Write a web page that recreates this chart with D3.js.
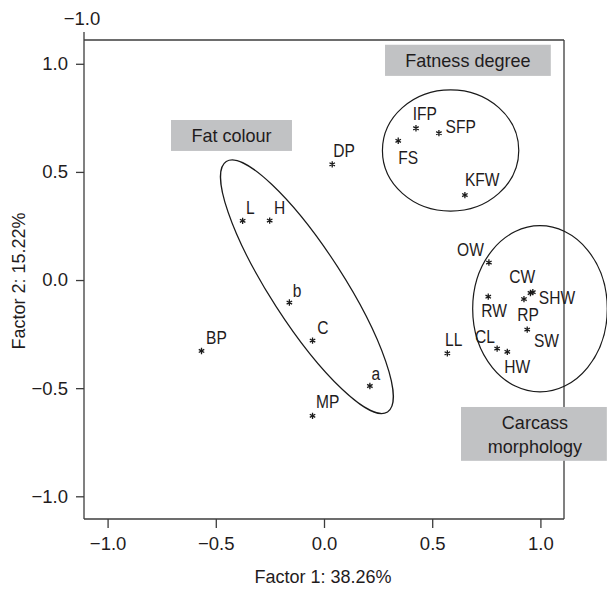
<!DOCTYPE html>
<html>
<head>
<meta charset="utf-8">
<script src="https://cdn.jsdelivr.net/npm/d3@7"></script>
<style>
  body { margin: 0; background: #fff; }
  text { font-family: "Liberation Sans", Arial, sans-serif; fill: #1f1c1d; }
</style>
</head>
<body>
<div id="chart"></div>
<script>
// variables (factor 1, factor 2)
const names = ["L", "H", "b", "C", "a", "MP", "BP", "DP", "IFP", "SFP", "FS", "KFW",
               "OW", "RW", "RP", "CW", "SHW", "SW", "CL", "HW", "LL"];
const factor1 = [-0.376, -0.251, -0.160, -0.053, 0.212, -0.053, -0.566, 0.038, 0.425, 0.531, 0.343, 0.651,
                 0.762, 0.759, 0.924, 0.954, 0.965, 0.939, 0.800, 0.847, 0.570];
const factor2 = [0.274, 0.275, -0.104, -0.280, -0.490, -0.628, -0.328, 0.535, 0.702, 0.679, 0.644, 0.393,
                 0.081, -0.077, -0.088, -0.060, -0.056, -0.229, -0.317, -0.332, -0.339];
const tickValues = [-1.0, -0.5, 0.0, 0.5, 1.0];

// groups: ellipse (data units) and grey label box (data units)
const groupNames = ["Fat colour", "Fatness degree", "Carcass morphology"];
const groupEllipses = [
  {cx: -0.079, cy: -0.031, rx: 0.688, ry: 0.169, angle: 57.2},
  {cx: 0.585, cy: 0.599, rx: 0.315, ry: 0.280, angle: 0},
  {cx: 0.998, cy: -0.133, rx: 0.311, ry: 0.384, angle: 0}
];
const groupBoxes = [
  {x0: -0.707, x1: -0.148, y0: 0.740, y1: 0.597},
  {x0: 0.282, x1: 1.048, y0: 1.088, y1: 0.944},
  {x0: 0.633, x1: 1.307, y0: -0.587, y1: -0.836}
];

// label placement next to each star (pixels)
const labelOffset = {
  L: [3.3, -6.7, "start"], H: [4.3, -6.5, "start"], b: [3.4, -5.8, "start"],
  C: [4.8, -6.2, "start"], a: [1.7, -6, "start"], MP: [3.5, -7.4, "start"],
  BP: [4.5, -6.7, "start"], DP: [1, -7.6, "start"], IFP: [-3.3, -8.3, "start"],
  SFP: [6.7, -0.6, "start"], FS: [0, 23.6, "start"], KFW: [0, -9.3, "start"],
  OW: [-5, -6.5, "end"], RW: [-7, 20.5, "start"], RP: [-6.7, 22.4, "start"],
  CW: [-21.2, -10, "start"], SHW: [6, 12.3, "start"], SW: [6.7, 17.2, "start"],
  CL: [-2.3, -5.2, "end"], HW: [-3, 21.6, "start"], LL: [-2.3, -7.3, "start"]
};

const W = 607, H = 589;
const margin = {top: 40, right: 43, bottom: 70, left: 84},
      width = W - margin.left - margin.right,
      height = H - margin.top - margin.bottom;

const svg = d3.select("#chart").append("svg")
    .attr("width", W)
    .attr("height", H);

const x = d3.scaleLinear().domain([-1.109, 1.109]).range([margin.left, margin.left + width]);
const y = d3.scaleLinear().domain([-1.105, 1.11]).range([margin.top + height, margin.top]);
const fmt = d3.format(".1f");

// axes
const xAxis = svg.append("g")
    .attr("transform", `translate(0,${margin.top + height})`)
    .call(d3.axisBottom(x).tickValues(tickValues).tickFormat(fmt).tickSize(9).tickPadding(9));
const yAxis = svg.append("g")
    .attr("transform", `translate(${margin.left},0)`)
    .call(d3.axisLeft(y).tickValues(tickValues).tickFormat(fmt).tickSize(8).tickPadding(8));

[xAxis, yAxis].forEach(g => {
  g.select(".domain").remove();
  g.selectAll("line").attr("stroke", "#3c3c3c").attr("stroke-width", 1.3);
  g.selectAll("text").style("font-size", "18.5px").attr("fill", "#1f1c1d");
});

// frame
const frame = svg.append("g").attr("stroke", "#3c3c3c").attr("stroke-width", 1.3).attr("fill", "none");
frame.append("line").attr("x1", x.range()[0]).attr("x2", x.range()[0]).attr("y1", margin.top - 8).attr("y2", y.range()[0]);
frame.append("line").attr("x1", x.range()[0]).attr("x2", x.range()[1]).attr("y1", y.range()[0]).attr("y2", y.range()[0]);
frame.append("line").attr("x1", x.range()[0]).attr("x2", x.range()[1]).attr("y1", y.range()[1]).attr("y2", y.range()[1]);
frame.append("line").attr("x1", x.range()[1]).attr("x2", x.range()[1]).attr("y1", y.range()[1]).attr("y2", y.range()[0]);

svg.append("text")
    .attr("x", x.range()[0] - 2)
    .attr("y", 25)
    .attr("text-anchor", "middle")
    .style("font-size", "18.5px")
    .text(fmt(-1));

// axis titles
svg.append("text")
    .attr("x", x(0) - 1)
    .attr("y", 583)
    .attr("text-anchor", "middle")
    .style("font-size", "18px")
    .text("Factor 1: 38.26%");

svg.append("text")
    .attr("transform", `translate(24.5,${y(0) + 1}) rotate(-90)`)
    .attr("text-anchor", "middle")
    .style("font-size", "18px")
    .text("Factor 2: 15.22%");

// ellipses
const unit = x(1) - x(0);
svg.append("g").selectAll("ellipse")
  .data(groupEllipses)
  .enter()
  .append("ellipse")
    .attr("transform", d => `translate(${x(d.cx)},${y(d.cy)}) rotate(${d.angle})`)
    .attr("rx", d => d.rx * unit)
    .attr("ry", d => d.ry * unit)
    .attr("fill", "none")
    .attr("stroke", "#1a1a1a")
    .attr("stroke-width", 1.2);

// grey boxes
const boxes = svg.append("g").selectAll("g")
  .data(groupBoxes)
  .enter()
  .append("g");

boxes.append("rect")
    .attr("x", d => x(d.x0))
    .attr("y", d => y(d.y0))
    .attr("width", d => x(d.x1) - x(d.x0))
    .attr("height", d => y(d.y1) - y(d.y0))
    .attr("fill", "#c1c2c4");

boxes.each(function(d, i) {
  const lines = i === 2 ? ["Carcass", "morphology"] : [groupNames[i]];
  const cx = (x(d.x0) + x(d.x1)) / 2;
  lines.forEach((ln, k) => {
    const ty = lines.length === 1 ? (y(d.y0) + y(d.y1)) / 2 + 7 : y(d.y0) + 22.5 + k * 23.5;
    d3.select(this).append("text")
      .attr("transform", `translate(${cx + (lines.length === 1 ? 0 : 1)},${ty}) scale(0.95,1)`)
      .attr("text-anchor", "middle")
      .style("font-size", "19px")
      .text(ln);
  });
});

// asterisk markers
const asterisk = {
  draw(ctx, size) {
    const r = Math.sqrt(size) / 2;
    for (let k = 0; k < 3; k++) {
      const ang = Math.PI / 2 + k * Math.PI / 3;
      ctx.moveTo(r * Math.cos(ang), r * Math.sin(ang));
      ctx.lineTo(-r * Math.cos(ang), -r * Math.sin(ang));
    }
  }
};

const points = names.map((n, i) => ({name: n, f1: factor1[i], f2: factor2[i]}));

svg.append("g").selectAll("path")
  .data(points)
  .enter()
  .append("path")
    .attr("transform", d => `translate(${x(d.f1)},${y(d.f2)})`)
    .attr("d", d3.symbol(asterisk, 40))
    .attr("stroke", "#1a1a1a")
    .attr("stroke-width", 1.3)
    .attr("fill", "none");

svg.append("g").selectAll("text")
  .data(points)
  .enter()
  .append("text")
    .attr("transform", d => {
      const o = labelOffset[d.name];
      return `translate(${x(d.f1) + o[0]},${y(d.f2) + o[1]}) scale(0.82,1)`;
    })
    .attr("text-anchor", d => labelOffset[d.name][2])
    .style("font-size", "19px")
    .text(d => d.name);
</script>
</body>
</html>
